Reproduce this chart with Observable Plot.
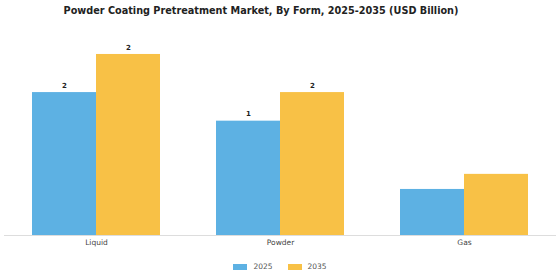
<!DOCTYPE html>
<html>
<head>
<meta charset="utf-8">
<script src="https://cdn.jsdelivr.net/npm/d3@7"></script>
<script src="https://cdn.jsdelivr.net/npm/@observablehq/plot@0.6"></script>
<style>
  html, body { margin: 0; padding: 0; background: #fff; }
  body { width: 560px; height: 280px; overflow: hidden; font-family: "DejaVu Sans", sans-serif; }
  #title { height: 22px; line-height: 22px; text-align: center; font-weight: bold; font-size: 9.7px; color: #222; padding-right: 38px; }
  #legend { display: flex; justify-content: center; gap: 15px; font-size: 7.5px; color: #555; margin-top: 8px; }
  .item { display: flex; align-items: center; gap: 6px; }
  .sw { width: 14px; height: 6px; display: inline-block; }
</style>
</head>
<body>
<div id="title">Powder Coating Pretreatment Market, By Form, 2025-2035 (USD Billion)</div>
<div id="chart"></div>
<div id="legend"></div>
<script>
const forms = ["Liquid", "Powder", "Gas"];
const years = ["2025", "2035"];
const values2025 = [1.8, 1.44, 0.58];
const values2035 = [2.28, 1.8, 0.77];
const colors = ["#5db1e3", "#f8c146"];

const data = [];
forms.forEach((f, i) => {
  data.push({form: f, year: "2025", value: values2025[i]});
  data.push({form: f, year: "2035", value: values2035[i]});
});
const labelled = data.filter(d => d.value >= 1);
const fmt = d3.format(".0f");

const plot = Plot.plot({
  width: 560,
  height: 232,
  marginTop: 14.5,
  marginBottom: 19,
  marginLeft: 4,
  marginRight: 4,
  x: {domain: forms, paddingInner: 0.304, paddingOuter: 0.152, label: null, tickSize: 0, tickPadding: 4},
  y: {domain: [0, 2.5], axis: null},
  color: {domain: years, range: colors},
  style: {fontFamily: "DejaVu Sans, sans-serif", fontSize: "7.5px", color: "#444"},
  marks: [
    Plot.ruleY([0], {stroke: "#ddd", strokeWidth: 1}),
    Plot.barY(data.filter(d => d.year === "2025"), {x: "form", y: "value", fill: "year", insetRight: 64}),
    Plot.barY(data.filter(d => d.year === "2035"), {x: "form", y: "value", fill: "year", insetLeft: 64}),
    Plot.text(labelled.filter(d => d.year === "2025"), {x: "form", y: "value", text: d => fmt(d.value), dy: -7, dx: -32, fontWeight: "bold", fontSize: 7, fill: "#222"}),
    Plot.text(labelled.filter(d => d.year === "2035"), {x: "form", y: "value", text: d => fmt(d.value), dy: -7, dx: 32, fontWeight: "bold", fontSize: 7, fill: "#222"})
  ]
});
document.getElementById("chart").appendChild(plot);

const legend = document.getElementById("legend");
years.forEach((y, i) => {
  const item = document.createElement("div");
  item.className = "item";
  item.innerHTML = `<span class="sw" style="background:${colors[i]}"></span><span>${y}</span>`;
  legend.appendChild(item);
});
</script>
</body>
</html>
